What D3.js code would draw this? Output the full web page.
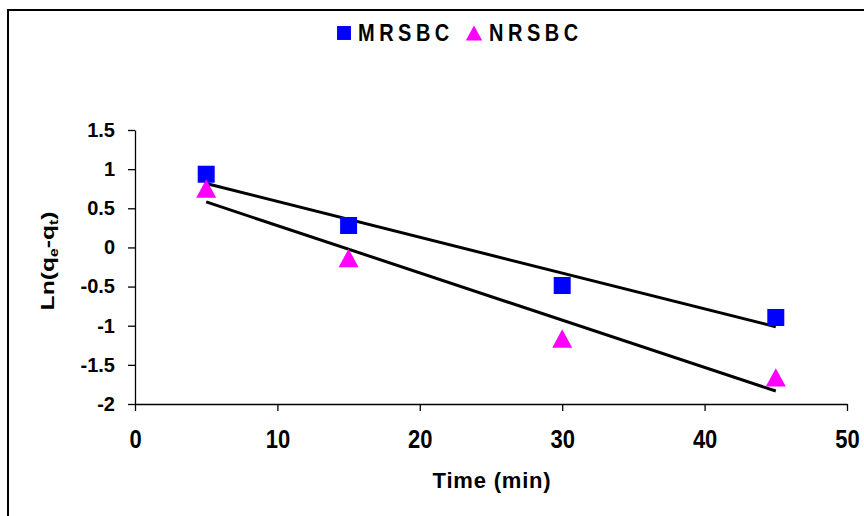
<!DOCTYPE html>
<html>
<head>
<meta charset="utf-8">
<script src="https://cdn.jsdelivr.net/npm/d3@7"></script>
<style>
  html, body { margin: 0; padding: 0; background: #fff; }
  svg { display: block; font-family: "Liberation Sans", Arial, sans-serif; }
</style>
</head>
<body>
<svg id="chart" width="864" height="516"></svg>
<script>
// Contact time (min)
const times = [5, 15, 30, 45];
// Ln(qe - qt) for each adsorbent
const mrsbc = [0.935, 0.28, -0.486, -0.895];
const nrsbc = [0.753, -0.135, -1.163, -1.66];
const seriesNames = ["MRSBC", "NRSBC"];
const seriesColors = ["#0000FF", "#FF00FF"];
const xTicks = [0, 10, 20, 30, 40, 50];
const yTicks = [1.5, 1, 0.5, 0, -0.5, -1, -1.5, -2];

const svg = d3.select("#chart");
const FONT = "'Liberation Sans', Arial, sans-serif";

// chart frame
svg.append("path")
  .attr("d", "M8,516 L8,10 L864,10")
  .attr("fill", "none").attr("stroke", "#000").attr("stroke-width", 2);

const x = d3.scaleLinear().domain([0, 50]).range([135, 847]);
const y = d3.scaleLinear().domain([-2, 1.5]).range([404, 130]);

// axes (plain hyphen for negative labels)
const xAxis = d3.axisBottom(x).tickValues(xTicks).tickSize(7).tickSizeOuter(0)
  .tickFormat(d => String(d));
const yAxis = d3.axisLeft(y).tickValues(yTicks).tickSize(7).tickSizeOuter(0).tickPadding(13)
  .tickFormat(d => String(d));

const gx = svg.append("g").attr("transform", `translate(0,${y(-2)})`).call(xAxis);
const gy = svg.append("g").attr("transform", `translate(${x(0)},0)`).call(yAxis);
[gx, gy].forEach(g => {
  g.select(".domain").attr("stroke", "#000").attr("stroke-width", 1.3);
  g.selectAll(".tick line").attr("stroke", "#000").attr("stroke-width", 1.3);
  g.selectAll(".tick text")
    .attr("fill", "#000")
    .style("font-family", FONT)
    .style("font-weight", "bold");
});
gy.selectAll(".tick text").style("font-size", "20px");
// x tick labels use a tall, narrow face
const xsy = 1.2;
gx.selectAll(".tick text")
  .style("font-size", "22px")
  .attr("dy", null)
  .attr("y", 44 / xsy)
  .attr("transform", `scale(1,${xsy})`);

// axis titles
svg.append("text")
  .attr("x", 492).attr("y", 488)
  .attr("text-anchor", "middle")
  .style("font-size", "22px").style("font-weight", "bold")
  .style("letter-spacing", "0.8px")
  .text("Time (min)");

const yl = svg.append("text")
  .attr("transform", "translate(54,261) rotate(-90) scale(1.3,1)")
  .attr("text-anchor", "middle")
  .style("font-size", "19px").style("font-weight", "bold");
yl.append("tspan").text("Ln(q");
yl.append("tspan").attr("dy", 4).style("font-size", "12px").text("e");
yl.append("tspan").attr("dy", -4).text("-q");
yl.append("tspan").attr("dy", 4).style("font-size", "12px").text("t");
yl.append("tspan").attr("dy", -4).text(")");

// least-squares trend line for a series
function fit(xs, ys) {
  const mx = d3.mean(xs), my = d3.mean(ys);
  const sxy = d3.sum(xs, (v, i) => (v - mx) * (ys[i] - my));
  const sxx = d3.sum(xs, v => (v - mx) * (v - mx));
  const b = sxy / sxx;
  return v => my + b * (v - mx);
}

const series = [mrsbc, nrsbc];
const line = d3.line().x(d => x(d[0])).y(d => y(d[1]));
series.forEach(vals => {
  const f = fit(times, vals);
  const x0 = d3.min(times), x1 = d3.max(times);
  svg.append("path")
    .attr("d", line([[x0, f(x0)], [x1, f(x1)]]))
    .attr("fill", "none").attr("stroke", "#000").attr("stroke-width", 3);
});

// markers: square, and a triangle centred on its bounding box
const boxTriangle = {
  draw(ctx, size) {
    const w = Math.sqrt(size), h = w * 0.92;
    ctx.moveTo(0, -h / 2);
    ctx.lineTo(w / 2, h / 2);
    ctx.lineTo(-w / 2, h / 2);
    ctx.closePath();
  }
};
const sq = d3.symbol().type(d3.symbolSquare).size(289);
const tri = d3.symbol().type(boxTriangle).size(400);
svg.append("g").selectAll("path")
  .data(times.map((t, i) => [t, mrsbc[i]]))
  .join("path")
  .attr("d", sq)
  .attr("transform", d => `translate(${x(d[0])},${y(d[1])})`)
  .attr("fill", seriesColors[0]);
svg.append("g").selectAll("path")
  .data(times.map((t, i) => [t, nrsbc[i]]))
  .join("path")
  .attr("d", tri)
  .attr("transform", d => `translate(${x(d[0])},${y(d[1])})`)
  .attr("fill", seriesColors[1]);

// legend
const legendItems = [
  { name: seriesNames[0], sym: sq, color: seriesColors[0], mx: 344, tx: 358 },
  { name: seriesNames[1], sym: tri, color: seriesColors[1], mx: 474, tx: 489 }
];
legendItems.forEach(it => {
  svg.append("path").attr("d", it.sym)
    .attr("transform", `translate(${it.mx},33) scale(0.82)`)
    .attr("fill", it.color);
  svg.append("text")
    .attr("transform", `translate(${it.tx},41) scale(1,1.15)`)
    .style("font-size", "20px").style("font-weight", "bold")
    .style("letter-spacing", "4.5px")
    .text(it.name);
});
</script>
</body>
</html>
